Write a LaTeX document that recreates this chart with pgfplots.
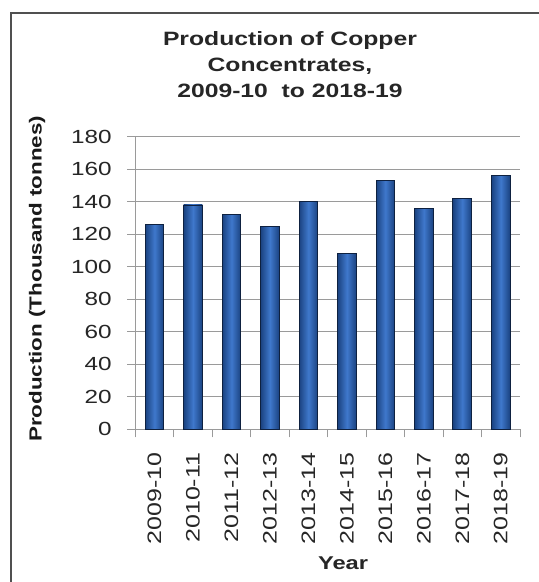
\documentclass[border=0pt]{standalone}
\usepackage{fontspec}
\setmainfont[FakeStretch=1.28]{Liberation Sans}
\usepackage{pgfplots}
\pgfplotsset{compat=1.18}
\definecolor{barmid}{HTML}{3F78CC}
\definecolor{baredge}{HTML}{1A4280}
\definecolor{barline}{HTML}{0E2140}
\definecolor{gridc}{HTML}{9A9A9A}
\definecolor{framec}{HTML}{505050}
\newcommand\cbar[2]{\addplot[ybar, bar width=18.7pt, bar shift=0pt, draw=barline, line width=0.9pt, left color=baredge, right color=baredge, middle color=barmid] coordinates {(#1,#2)};}
\begin{document}
\begin{tikzpicture}[x=1pt,y=1pt]
\fill[white] (-135.3,-152.7) rectangle (403.7,429.3);
\fill[framec] (-125.3,-152.7) rectangle (-123.3,417.5);
\fill[framec] (-125.3,415.5) rectangle (403.7,417.5);
\begin{axis}[
  at={(0,0)}, anchor=south west,
  scale only axis, width=384.7pt, height=292.6pt,
  xmin=-0.5, xmax=9.5, ymin=0, ymax=180,
  ytick={0,20,...,180},
  xtick={0,...,9},
  xticklabels={2009-10,2010-11,2011-12,2012-13,2013-14,2014-15,2015-16,2016-17,2017-18,2018-19},
  minor xtick={-0.5,0.5,...,9.5},
  axis lines*=left,
  axis line style={gridc, line width=0.9pt},
  ymajorgrids, grid style={gridc, line width=0.9pt},
  tick align=outside,
  major tick length=8pt, minor tick length=8pt,
  every tick/.style={gridc, line width=0.9pt},
  every major x tick/.style={draw=none},
  /pgf/number format/assume math mode=true,
  yticklabel style={font=\fontsize{19}{20}\selectfont, text=black!85, xshift=-12pt},
  xticklabel style={font=\fontsize{19.5}{20}\selectfont, rotate=90, anchor=east, text=black!85, xshift=-12pt},
  clip=false,
]
\cbar{0}{126}
\cbar{1}{138}
\cbar{2}{132}
\cbar{3}{125}
\cbar{4}{140}
\cbar{5}{108}
\cbar{6}{153}
\cbar{7}{136}
\cbar{8}{142}
\cbar{9}{156}
\node[font=\bfseries\fontsize{19.3}{26}\selectfont, align=center, text=black!85] at (axis description cs:0.402,1.247) {Production of Copper\\Concentrates,\\2009-10\ \ to 2018-19};
\node[font=\bfseries\fontsize{17.5}{20}\selectfont, rotate=90, text=black!90] at (axis description cs:-0.2555,0.514) {Production (Thousand tonnes)};
\node[font=\bfseries\fontsize{18.5}{20}\selectfont, text=black!85] at (axis description cs:0.54,-0.457) {Year};
\end{axis}
\useasboundingbox (-135.3,-152.7) rectangle (403.7,429.3);
\end{tikzpicture}
\end{document}
